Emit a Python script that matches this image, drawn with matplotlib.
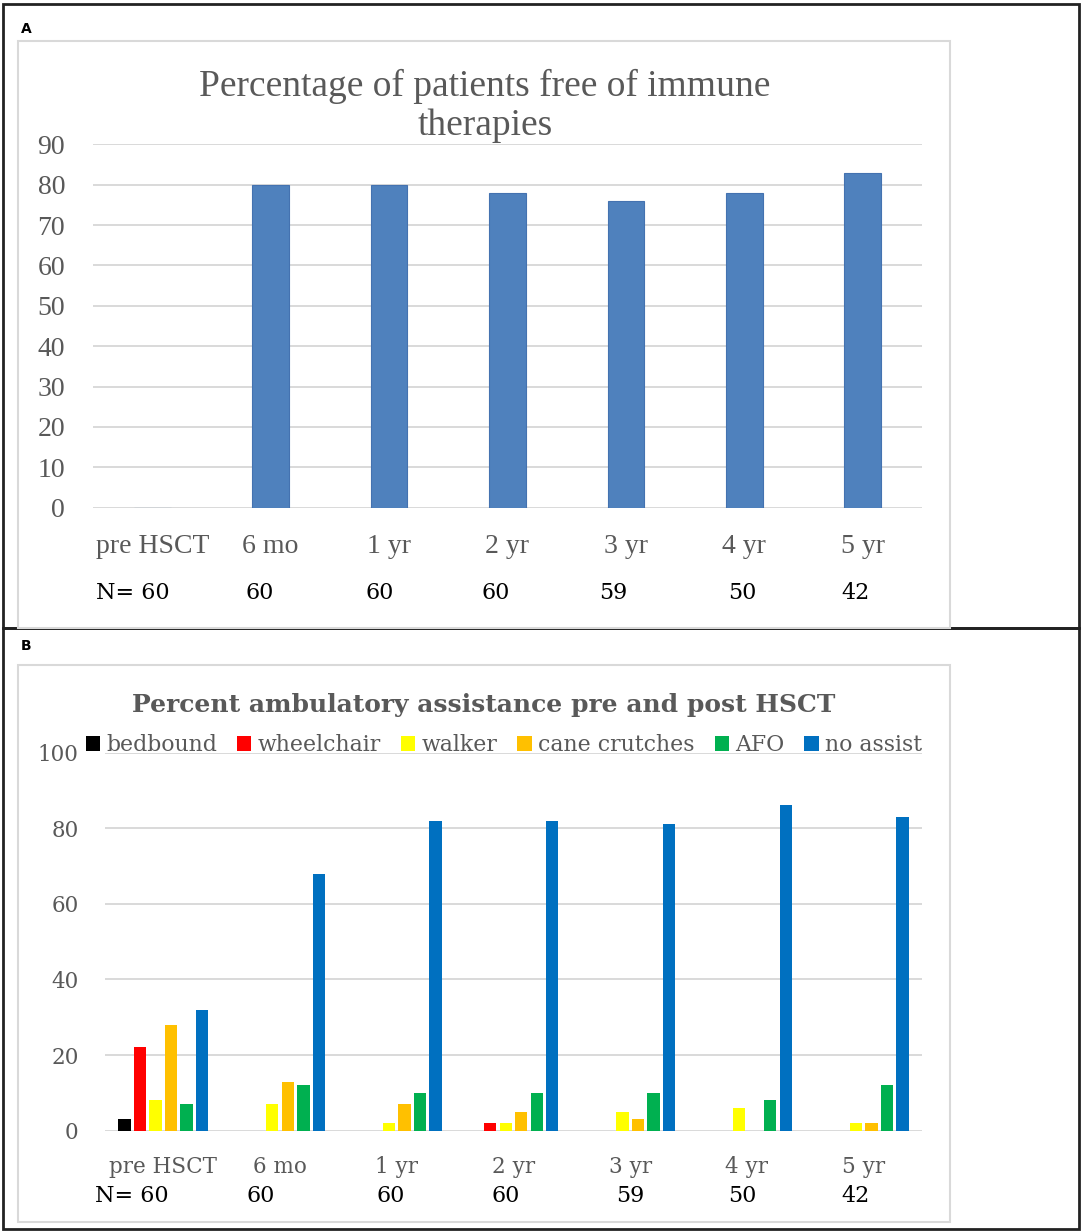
import matplotlib.pyplot as plt
from matplotlib.patches import Rectangle
from matplotlib.transforms import blended_transform_factory
import numpy as np

W, H = 1084, 1232

categories = ['pre HSCT', '6 mo', '1 yr', '2 yr', '3 yr', '4 yr', '5 yr']
n_labels = ['N= 60', '60', '60', '60', '59', '50', '42']

# panel A
free_pct = [0, 80, 80, 78, 76, 78, 83]

# panel B
assist_names = ['bedbound', 'wheelchair', 'walker', 'cane crutches', 'AFO', 'no assist']
bedbound = [3, 0, 0, 0, 0, 0, 0]
wheelchair = [22, 0, 0, 2, 0, 0, 0]
walker = [8, 7, 2, 2, 5, 6, 2]
cane_crutches = [28, 13, 7, 5, 3, 0, 2]
afo = [7, 12, 10, 10, 10, 8, 12]
no_assist = [32, 68, 82, 82, 81, 86, 83]
assist_colors = ['#000000', '#FF0000', '#FFFF00', '#FFC000', '#00B050', '#0070C0']

GRAY = '#595959'
GRID = '#D9D9D9'


def px_rect(x0, y0, x1, y1):
    return [x0 / W, 1 - y1 / H, (x1 - x0) / W, (y1 - y0) / H]


fig = plt.figure(figsize=(W / 100, H / 100), dpi=100)

# overlay in pixel coords for frames and free text
ov = fig.add_axes([0, 0, 1, 1], zorder=0)
ov.set_xlim(0, W)
ov.set_ylim(H, 0)
ov.axis('off')

# outer black frames
ov.add_patch(Rectangle((3, 4), 1076, 624, fill=False, edgecolor='#222222', lw=2))
ov.add_patch(Rectangle((3, 628), 1076, 601, fill=False, edgecolor='#222222', lw=2))
# inner chart area frames
ov.add_patch(Rectangle((18, 41), 932, 587, fill=False, edgecolor=GRID, lw=1.5))
ov.add_patch(Rectangle((18, 665), 932, 557, fill=False, edgecolor=GRID, lw=1.5))

ov.text(26, 29, 'A', fontsize=10, fontweight='bold', family='DejaVu Sans', ha='center', va='center')
ov.text(26, 646, 'B', fontsize=10, fontweight='bold', family='DejaVu Sans', ha='center', va='center')

x = np.arange(len(categories))

# ---------- Panel A ----------
axA = fig.add_axes(px_rect(93, 144.3, 922, 507.7), zorder=2)
axA.patch.set_alpha(0)
axA.bar(x, free_pct, width=0.31, color='#4F81BD', edgecolor='#4472B0', linewidth=0.8, zorder=3)
axA.set_xlim(-0.5, len(categories) - 0.5)
axA.set_ylim(0, 90)
axA.set_yticks(range(0, 91, 10))
axA.yaxis.grid(True, color=GRID, lw=1.4, zorder=0)
axA.set_axisbelow(True)
for s in axA.spines.values():
    s.set_visible(False)
axA.tick_params(length=0)
axA.tick_params(axis='y', pad=20, labelsize=20, labelcolor=GRAY)
axA.set_xticks(x)
axA.set_xticklabels(categories)
axA.tick_params(axis='x', pad=19, labelsize=20, labelcolor=GRAY)
for lab in axA.get_xticklabels() + axA.get_yticklabels():
    lab.set_family('Liberation Serif')

ov.text(485, 106, 'Percentage of patients free of immune\ntherapies', fontsize=27,
        family='Liberation Serif', color=GRAY, ha='center', va='center', linespacing=1.16)

tA = blended_transform_factory(axA.transData, ov.transData)
shiftA = [-0.16, -0.09, -0.08, -0.1, -0.11, -0.02, -0.06]
for i, lab in enumerate(n_labels):
    axA.text(i + shiftA[i], 593, lab, transform=tA, fontsize=16, family='DejaVu Serif',
             color='black', ha='center', va='center')

# ---------- Panel B ----------
axB = fig.add_axes(px_rect(105, 752.5, 922, 1130.7), zorder=2)
axB.patch.set_alpha(0)
series = [bedbound, wheelchair, walker, cane_crutches, afo, no_assist]
pitch = 0.133
for k, (vals, name, col) in enumerate(zip(series, assist_names, assist_colors)):
    axB.bar(x + (k - 2.5) * pitch, vals, width=0.106, color=col, label=name, zorder=3)
axB.set_xlim(-0.5, len(categories) - 0.5)
axB.set_ylim(0, 100)
axB.set_yticks(range(0, 101, 20))
axB.yaxis.grid(True, color=GRID, lw=1.4, zorder=0)
axB.set_axisbelow(True)
for s in axB.spines.values():
    s.set_visible(False)
axB.tick_params(length=0)
axB.tick_params(axis='y', pad=19, labelsize=15.5, labelcolor=GRAY)
axB.set_xticks(x)
axB.set_xticklabels(categories)
axB.tick_params(axis='x', pad=18, labelsize=15.5, labelcolor=GRAY)
for lab in axB.get_xticklabels() + axB.get_yticklabels():
    lab.set_family('DejaVu Serif')

ov.text(484, 705, 'Percent ambulatory assistance pre and post HSCT', fontsize=18,
        fontweight='bold', family='DejaVu Serif', color=GRAY, ha='center', va='center')

leg = fig.legend(*axB.get_legend_handles_labels(), loc='center', ncol=6,
                 bbox_to_anchor=(504 / W, 1 - 745 / H), frameon=False,
                 handlelength=0.65, handleheight=0.65, handletextpad=0.3,
                 columnspacing=0.9, prop={'family': 'DejaVu Serif', 'size': 15.8})
for t in leg.get_texts():
    t.set_color(GRAY)

tB = blended_transform_factory(axB.transData, ov.transData)
shiftB = [-0.27, -0.17, -0.05, -0.07, 0.0, -0.04, -0.07]
for i, lab in enumerate(n_labels):
    axB.text(i + shiftB[i], 1196, lab, transform=tB, fontsize=16, family='DejaVu Serif',
             color='black', ha='center', va='center')

fig.savefig('out.png', dpi=100)
